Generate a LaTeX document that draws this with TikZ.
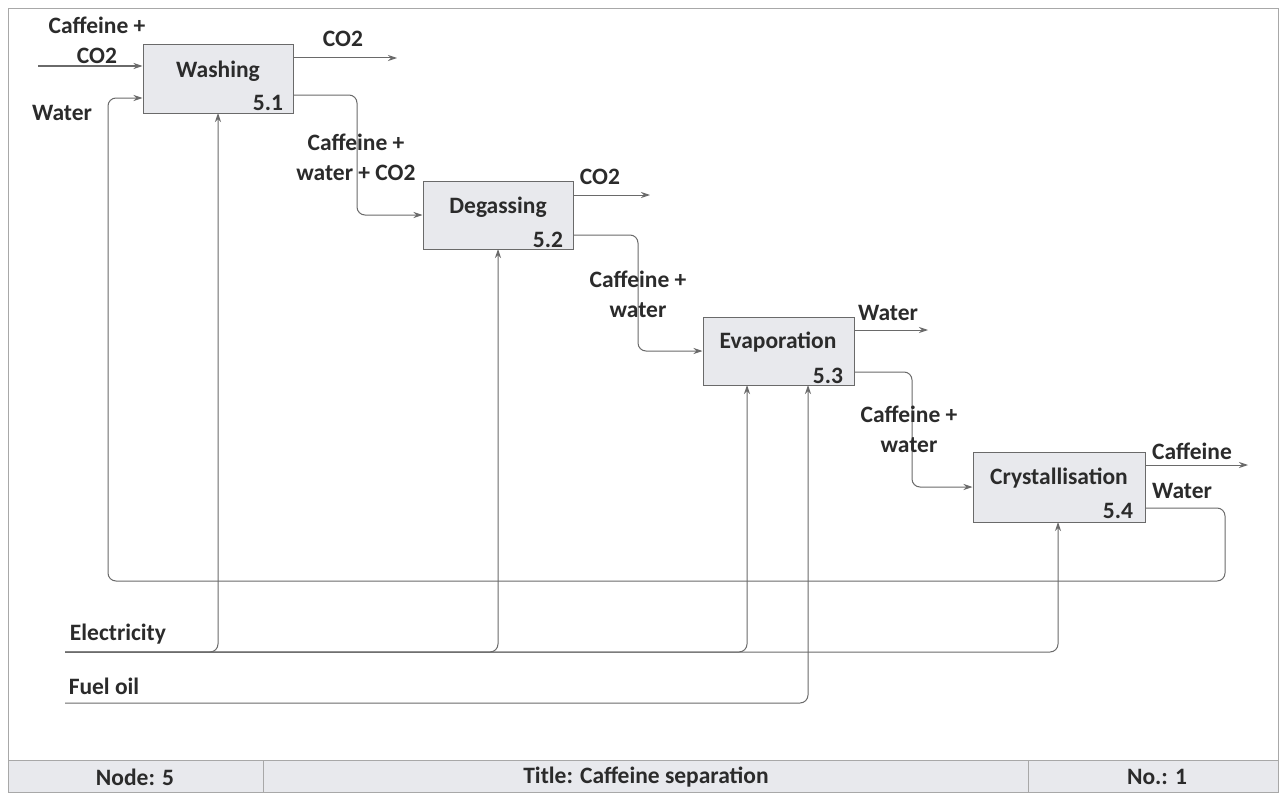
\documentclass[tikz,border=0pt]{standalone}
\usepackage{fontspec}
\setmainfont{Carlito}
\usetikzlibrary{arrows.meta}
\definecolor{ln}{HTML}{6A6A6A}
\definecolor{frame}{HTML}{A8A8A8}
\definecolor{boxfill}{HTML}{E8E9ED}
\definecolor{foot}{HTML}{E8E9ED}
\definecolor{txt}{HTML}{2B2B2B}
\tikzset{
  proc/.style={draw=ln, fill=boxfill, line width=1pt, inner sep=0pt},
  flow/.style={draw=ln, line width=1pt, rounded corners=8pt, -{Stealth[length=9pt,width=6pt]}},
  lbl/.style={font=\bfseries\fontsize{23.5}{30}\selectfont, text=txt, align=center, inner sep=0pt},
}
\begin{document}
\begin{tikzpicture}[x=1pt,y=-1pt]
\useasboundingbox (0,0) rectangle (1284,792);
% frame and footer
\draw[frame, line width=0.9pt, fill=white] (8,8) rectangle (1278,792);
\draw[frame, line width=0.9pt, fill=foot] (8,760) rectangle (1278,792);
\draw[frame, line width=0.9pt] (263,760) -- (263,792) (1028,760) -- (1028,792);
\node[lbl] (fnode) at (135,777) {Node: 5};
\node[lbl] (ftitle) at (646,777) {Title: Caffeine separation};
\node[lbl] (fno) at (1157,777) {No.: 1};

% boxes
\node[proc, minimum width=150pt, minimum height=68pt] (wash) at (218,79) {};
\node[proc, minimum width=150pt, minimum height=68pt] (degas) at (498,215) {};
\node[proc, minimum width=151pt, minimum height=68pt] (evap) at (778.5,351) {};
\node[proc, minimum width=172pt, minimum height=70pt] (cryst) at (1059,487) {};
\node[lbl] (washT) at (218,71) {Washing};
\node[lbl] (washN) at (268,103) {5.1};
\node[lbl] (degasT) at (498,207) {Degassing};
\node[lbl] (degasN) at (548,240) {5.2};
\node[lbl] (evapT) at (778,342) {Evaporation};
\node[lbl] (evapN) at (828,376) {5.3};
\node[lbl] (crystT) at (1059,478) {Crystallisation};
\node[lbl] (crystN) at (1118,511) {5.4};

% free ends
\coordinate (in1) at (38,66);
\coordinate (co2a) at (397,58);
\coordinate (co2b) at (650,195);
\coordinate (wout) at (928,330);
\coordinate (cout) at (1248,465);
\coordinate (elec) at (65,652);
\coordinate (fuel) at (65,703);

% flows
\draw[flow] (in1) -- (in1 -| wash.west);
\draw[flow] (co2a -| wash.east) -- (co2a);
\draw[flow] (wash.east |- 0,95) -- (357,95) -- (357,215) -- (degas.west);
\draw[flow] (co2b -| degas.east) -- (co2b);
\draw[flow] (degas.east |- 0,235) -- (638,235) -- (638,351) -- (evap.west);
\draw[flow] (wout -| evap.east) -- (wout);
\draw[flow] (evap.east |- 0,372) -- (912,372) -- (912,487) -- (cryst.west);
\draw[flow] (cout -| cryst.east) -- (cout);
\draw[flow] (cryst.east |- 0,508) -- (1225,508) -- (1225,581) -- (108,581) -- (108,98) -- (wash.west |- 0,98);
% electricity
\draw[flow] (elec) -- (218,652) -- (218,113);
\draw[flow] (elec) -- (498,652) -- (498,249);
\draw[flow] (elec) -- (747,652) -- (747,385);
\draw[flow] (elec) -- (1058,652) -- (1058,522);
% fuel oil
\draw[flow] (fuel) -- (808,703) -- (808,385);

% labels
\node[lbl] (l1) at (97,40) {Caffeine +\\CO2};
\node[lbl] (l2) at (62,113) {Water};
\node[lbl] (l3) at (343,39) {CO2};
\node[lbl] (l4) at (356,157) {Caffeine +\\water + CO2};
\node[lbl] (l5) at (600,177) {CO2};
\node[lbl] (l6) at (638,294) {Caffeine +\\water};
\node[lbl] (l7) at (888,313) {Water};
\node[lbl] (l8) at (909,429) {Caffeine +\\water};
\node[lbl] (l9) at (1192,451) {Caffeine};
\node[lbl] (l10) at (1182,491) {Water};
\node[lbl] (l11) at (118,634) {Electricity};
\node[lbl] (l12) at (104,686) {Fuel oil};
\end{tikzpicture}
\end{document}
